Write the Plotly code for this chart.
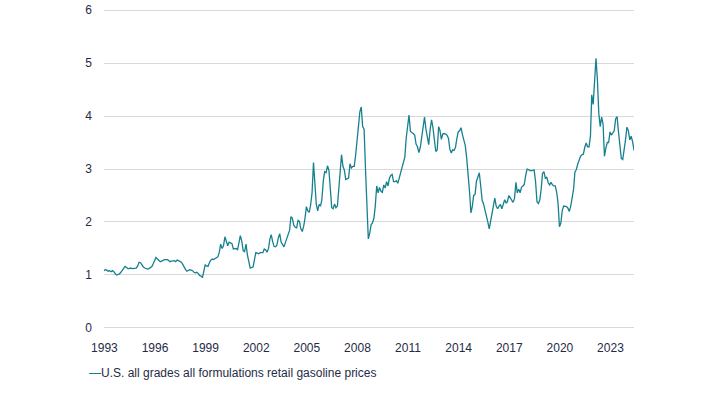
import pandas as pd
import plotly.graph_objects as go

# Monthly U.S. all grades all formulations retail gasoline prices ($/gal)
y1993 = [1.08, 1.10, 1.09, 1.07, 1.08, 1.06, 1.08, 1.06, 1.02]  # Apr-Dec
y1994 = [1.00, 1.01, 1.02, 1.05, 1.09, 1.13, 1.16, 1.14, 1.12, 1.12, 1.13, 1.12]
y1995 = [1.12, 1.12, 1.13, 1.17, 1.24, 1.23, 1.18, 1.15, 1.13, 1.12, 1.11, 1.12]
y1996 = [1.14, 1.16, 1.21, 1.29, 1.33, 1.30, 1.27, 1.25, 1.26, 1.28, 1.29, 1.29]
y1997 = [1.29, 1.27, 1.25, 1.26, 1.26, 1.27, 1.25, 1.28, 1.27, 1.25, 1.24, 1.20]
y1998 = [1.14, 1.10, 1.07, 1.08, 1.10, 1.09, 1.08, 1.05, 1.04, 1.05, 1.03, 0.99]
y1999 = [0.98, 0.95, 1.04, 1.19, 1.17, 1.16, 1.23, 1.28, 1.30, 1.29, 1.31, 1.33]
y2000 = [1.34, 1.43, 1.58, 1.50, 1.55, 1.72, 1.63, 1.55, 1.62, 1.60, 1.59, 1.49]
y2001 = [1.50, 1.50, 1.47, 1.62, 1.74, 1.64, 1.46, 1.44, 1.58, 1.38, 1.22, 1.13]
y2002 = [1.14, 1.15, 1.28, 1.42, 1.41, 1.40, 1.42, 1.42, 1.42, 1.49, 1.47, 1.43]
y2003 = [1.50, 1.68, 1.76, 1.63, 1.54, 1.53, 1.56, 1.70, 1.78, 1.62, 1.56, 1.53]
y2004 = [1.61, 1.69, 1.77, 1.84, 2.10, 2.07, 1.94, 1.90, 1.89, 2.03, 2.01, 1.87]
y2005 = [1.82, 1.92, 2.07, 2.29, 2.21, 2.18, 2.32, 2.55, 3.12, 2.75, 2.33, 2.21]
y2006 = [2.33, 2.30, 2.42, 2.77, 2.95, 2.93, 3.06, 2.98, 2.55, 2.27, 2.25, 2.34]
y2007 = [2.27, 2.30, 2.60, 2.90, 3.27, 3.05, 2.98, 2.80, 2.82, 2.83, 3.10, 3.02]
y2008 = [3.05, 3.05, 3.26, 3.48, 3.80, 4.08, 4.17, 3.80, 3.75, 3.00, 2.10, 1.68]
y2009 = [1.79, 1.95, 1.98, 2.07, 2.30, 2.68, 2.55, 2.65, 2.58, 2.56, 2.70, 2.64]
y2010 = [2.76, 2.68, 2.82, 2.88, 2.90, 2.76, 2.76, 2.78, 2.73, 2.83, 2.89, 3.02]
y2011 = [3.13, 3.23, 3.58, 3.84, 4.02, 3.71, 3.68, 3.67, 3.64, 3.47, 3.42, 3.31]
y2012 = [3.41, 3.61, 3.88, 3.98, 3.76, 3.57, 3.46, 3.75, 3.93, 3.78, 3.47, 3.33]
y2013 = [3.36, 3.80, 3.73, 3.56, 3.66, 3.67, 3.66, 3.64, 3.58, 3.38, 3.30, 3.36]
y2014 = [3.35, 3.41, 3.57, 3.70, 3.72, 3.78, 3.65, 3.52, 3.44, 3.21, 2.95, 2.58]
y2015 = [2.17, 2.30, 2.50, 2.52, 2.77, 2.85, 2.93, 2.68, 2.41, 2.34, 2.20, 2.11]
y2016 = [2.00, 1.87, 2.02, 2.19, 2.34, 2.45, 2.30, 2.25, 2.30, 2.33, 2.25, 2.33]
y2017 = [2.42, 2.36, 2.38, 2.50, 2.46, 2.41, 2.37, 2.44, 2.75, 2.55, 2.62, 2.55]
y2018 = [2.66, 2.68, 2.71, 2.88, 3.00, 2.99, 2.97, 2.97, 2.98, 2.98, 2.76, 2.38]
y2019 = [2.35, 2.42, 2.61, 2.92, 2.95, 2.82, 2.85, 2.74, 2.70, 2.75, 2.70, 2.68]
y2020 = [2.68, 2.56, 2.36, 1.91, 1.98, 2.22, 2.30, 2.30, 2.29, 2.26, 2.20, 2.30]
y2021 = [2.45, 2.62, 2.94, 2.99, 3.09, 3.16, 3.24, 3.27, 3.28, 3.41, 3.49, 3.42]
y2022 = [3.42, 3.62, 4.40, 4.22, 4.60, 5.09, 4.69, 4.05, 3.80, 3.98, 3.85, 3.24]
y2023 = [3.40, 3.50, 3.50, 3.70, 3.64, 3.67, 3.72, 3.95, 3.99, 3.70, 3.42, 3.20]
y2024 = [3.18, 3.33, 3.55, 3.79, 3.73, 3.55, 3.62, 3.52, 3.35]  # Jan-Sep

tick_years = [1993, 1996, 1999, 2002, 2005, 2008, 2011, 2014, 2017, 2020, 2023]
y_ticks = [0, 1, 2, 3, 4, 5, 6]
series_name = "U.S. all grades all formulations retail gasoline prices"

values = (y1993 + y1994 + y1995 + y1996 + y1997 + y1998 + y1999 + y2000 + y2001 + y2002
          + y2003 + y2004 + y2005 + y2006 + y2007 + y2008 + y2009 + y2010 + y2011 + y2012
          + y2013 + y2014 + y2015 + y2016 + y2017 + y2018 + y2019 + y2020 + y2021 + y2022
          + y2023 + y2024)
dates = pd.date_range("1993-04-01", periods=len(values), freq="MS")

LINE = "#17808f"
TEXT = "#1f2b47"
FONT = "Liberation Sans, Arial, sans-serif"
FS = 12

fig = go.Figure()
fig.add_trace(go.Scatter(x=dates, y=values, mode="lines", name=series_name,
                         line=dict(color=LINE, width=1.3), showlegend=False))

fig.update_layout(
    width=720, height=393,
    margin=dict(l=104, r=86, t=8, b=63),
    paper_bgcolor="white", plot_bgcolor="white",
    font=dict(family=FONT, size=FS, color=TEXT),
    xaxis=dict(
        range=[dates[0], dates[-1]],
        tickvals=[f"{y}-04-10" for y in tick_years],
        ticktext=[str(y) for y in tick_years],
        showgrid=False, zeroline=False, showline=False, ticks="",
        ticklabelstandoff=9, automargin=False, ticklabeloverflow="allow",
        tickfont=dict(family=FONT, size=FS, color=TEXT),
    ),
    yaxis=dict(
        range=[-0.04, 6.04], tickvals=y_ticks,
        showgrid=True, gridcolor="#d9d9d9", gridwidth=1,
        zeroline=False, showline=False, ticks="",
        ticklabelstandoff=11, automargin=False, ticklabeloverflow="allow",
        tickfont=dict(family=FONT, size=FS, color=TEXT),
    ),
    annotations=[dict(
        xref="paper", yref="paper", x=-0.032, y=-0.1335,
        xanchor="left", yanchor="middle", showarrow=False,
        text=f"<span style='color:{LINE}'>\u2014</span>{series_name}",
        font=dict(family=FONT, size=FS, color=TEXT),
    )],
)

fig.write_html("out.html", config={"displayModeBar": False},
               post_script="document.body.style.margin='0';")
